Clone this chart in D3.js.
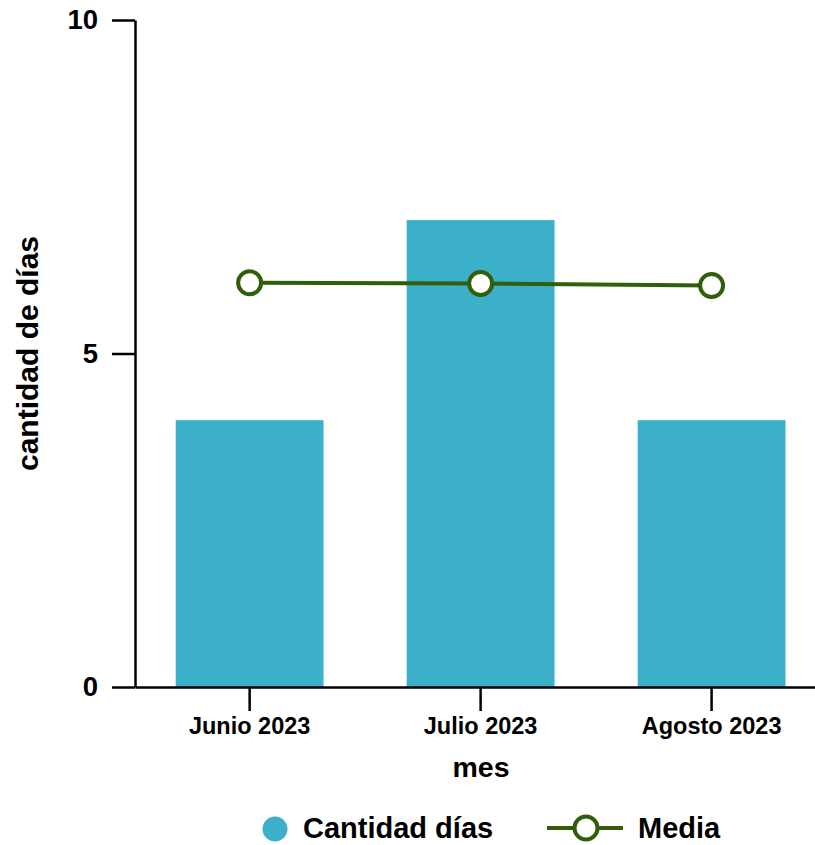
<!DOCTYPE html>
<html>
<head>
<meta charset="utf-8">
<script src="https://cdn.jsdelivr.net/npm/d3@7"></script>
<style>
  html, body { margin: 0; padding: 0; background: #ffffff; }
  text { font-family: "Liberation Sans", Arial, Helvetica, sans-serif; font-weight: bold; fill: #000; }
</style>
</head>
<body>
<svg id="chart" width="815" height="845"></svg>
<script>
const categories = ["Junio 2023", "Julio 2023", "Agosto 2023"];
const cantidadDias = [4, 7, 4];
const media = [6.06, 6.05, 6.02];
const yTicks = [0, 5, 10];
const seriesNames = ["Cantidad días", "Media"];

const W = 815, H = 845;
const margin = { top: 20, right: 0, bottom: 158, left: 135 };
const barColor = "#3cb0c9";
const lineColor = "#325e0c";

const svg = d3.select("#chart");

const x = d3.scaleBand()
  .domain(categories)
  .range([margin.left, W - margin.right])
  .paddingInner(0.36)
  .paddingOuter(0.152)
  .align(0.58);

const y = d3.scaleLinear()
  .domain([0, 10])
  .range([H - margin.bottom, margin.top]);

// Bars
svg.append("g")
  .selectAll("rect")
  .data(categories)
  .join("rect")
  .attr("x", d => x(d))
  .attr("y", (d, i) => y(cantidadDias[i]))
  .attr("width", x.bandwidth())
  .attr("height", (d, i) => y(0) - y(cantidadDias[i]))
  .attr("fill", barColor);

// X axis
const xAxis = svg.append("g")
  .attr("transform", `translate(0,${y(0)})`)
  .call(d3.axisBottom(x).tickSize(24).tickSizeOuter(0).tickPadding(6));
xAxis.select(".domain").attr("stroke", "#000").attr("stroke-width", 2.5);
xAxis.selectAll(".tick line").attr("stroke", "#000").attr("stroke-width", 2.5);
xAxis.selectAll(".tick text")
  .attr("font-size", 23.5)
  .attr("fill", "#000")
  .style("font-family", "'Liberation Sans', Arial, sans-serif")
  .style("font-weight", "bold");

// Y axis
const yAxis = svg.append("g")
  .attr("transform", `translate(${margin.left},0)`)
  .call(d3.axisLeft(y).tickValues(yTicks).tickFormat(d3.format("d")).tickSize(23).tickSizeOuter(0).tickPadding(14));
yAxis.select(".domain").attr("stroke", "#000").attr("stroke-width", 2.5);
yAxis.selectAll(".tick line").attr("stroke", "#000").attr("stroke-width", 2.5);
yAxis.selectAll(".tick text")
  .attr("font-size", 27.5)
  .attr("fill", "#000")
  .style("font-family", "'Liberation Sans', Arial, sans-serif")
  .style("font-weight", "bold");

// Line
const line = d3.line()
  .x((d, i) => x(categories[i]) + x.bandwidth() / 2)
  .y(d => y(d));
svg.append("path")
  .datum(media)
  .attr("d", line)
  .attr("fill", "none")
  .attr("stroke", lineColor)
  .attr("stroke-width", 4);
svg.append("g")
  .selectAll("circle")
  .data(media)
  .join("circle")
  .attr("cx", (d, i) => x(categories[i]) + x.bandwidth() / 2)
  .attr("cy", d => y(d))
  .attr("r", 11.5)
  .attr("fill", "#fff")
  .attr("stroke", lineColor)
  .attr("stroke-width", 4);

// Axis titles
svg.append("text")
  .attr("x", 481)
  .attr("y", 777)
  .attr("text-anchor", "middle")
  .attr("font-size", 28.5)
  .text("mes");
svg.append("text")
  .attr("transform", `translate(38,${(y(0) + y(10)) / 2}) rotate(-90)`)
  .attr("text-anchor", "middle")
  .attr("font-size", 30)
  .text("cantidad de días");

// Legend
const leg = svg.append("g");
leg.append("circle")
  .attr("cx", 275).attr("cy", 829).attr("r", 12.5)
  .attr("fill", barColor);
leg.append("text")
  .attr("x", 303).attr("y", 838)
  .attr("font-size", 29)
  .text(seriesNames[0]);
leg.append("line")
  .attr("x1", 547).attr("x2", 623).attr("y1", 828).attr("y2", 828)
  .attr("stroke", lineColor).attr("stroke-width", 4);
leg.append("circle")
  .attr("cx", 586).attr("cy", 828).attr("r", 11.5)
  .attr("fill", "#fff").attr("stroke", lineColor).attr("stroke-width", 4);
leg.append("text")
  .attr("x", 638).attr("y", 838)
  .attr("font-size", 29)
  .text(seriesNames[1]);
</script>
</body>
</html>
